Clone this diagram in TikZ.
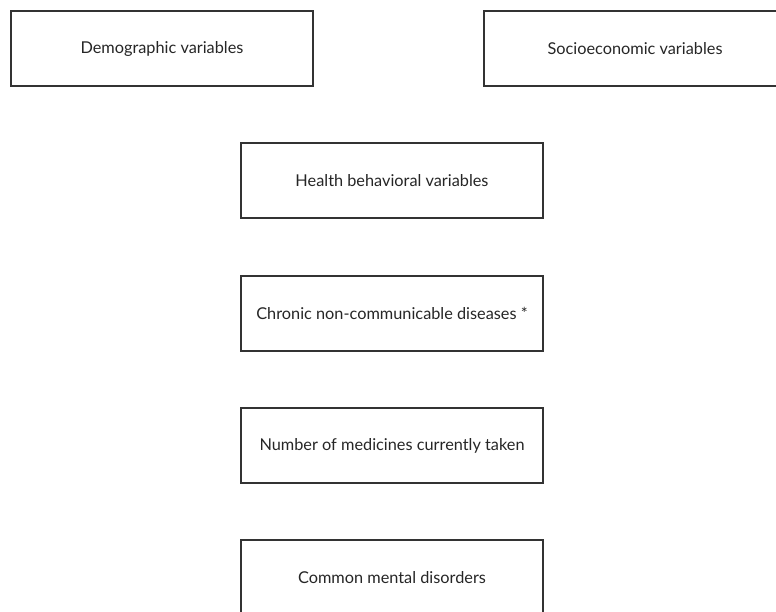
\documentclass[tikz,border=0pt]{standalone}
\usepackage{fontspec}
\setmainfont{Lato}
\newlength{\du}
\setlength{\du}{1pt}

\begin{document}
\begin{tikzpicture}[x=1\du,y=-1\du,
  varbox/.style={draw=dialinecolor,line width=1.2\du,fill=white,
    minimum width=302\du,minimum height=75\du,inner sep=0pt,
    font=\fontsize{16.3}{19}\selectfont,text=black!85}]
\definecolor{dialinecolor}{rgb}{0.200000, 0.200000, 0.200000}
\useasboundingbox (0,0) rectangle (776,611);
\clip (0,0) rectangle (776,611);
% top row
\node[varbox] (demo) at (162,48.5){Demographic variables};
\node[varbox] (socio) at (635,48.5){Socioeconomic variables};
% middle column
\node[varbox] (health) at (392,180.5){Health behavioral variables};
\node[varbox] (chronic) at (392,313.5){Chronic non-communicable diseases *};
\node[varbox] (medic) at (392,445.5){Number of medicines currently taken};
\node[varbox] (cmd) at (392,577.5){Common mental disorders};
\end{tikzpicture}
\end{document}
